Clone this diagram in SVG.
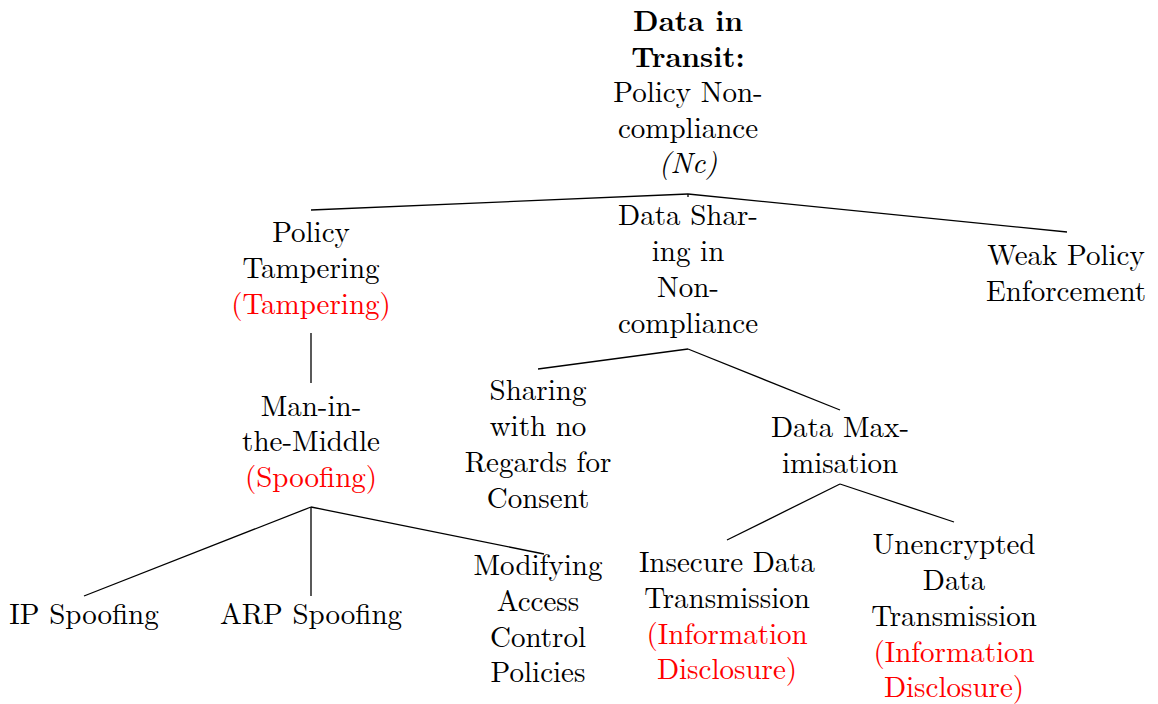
<svg xmlns="http://www.w3.org/2000/svg" width="1158" height="704" viewBox="0 0 1158 704">
<style>
text{font-size:29px;fill:#000;text-anchor:middle}
.b{font-weight:bold}
.i{font-style:italic}
.r{fill:#ff0000}
.e line{stroke:#000;stroke-width:1.3}
</style>
<rect width="1158" height="704" fill="#fff"/>
<g class="e" id="connectors">
<line x1="688" y1="194" x2="311" y2="210"/>
<line x1="688" y1="194" x2="688" y2="197"/>
<line x1="688" y1="194" x2="1067" y2="232"/>
<line x1="311" y1="333" x2="311" y2="383"/>
<line x1="311" y1="507" x2="84" y2="596"/>
<line x1="311" y1="507" x2="311" y2="596"/>
<line x1="311" y1="507" x2="544" y2="554"/>
<line x1="688" y1="349" x2="538" y2="369"/>
<line x1="688" y1="349" x2="840" y2="410"/>
<line x1="840" y1="484" x2="727" y2="540"/>
<line x1="840" y1="484" x2="954" y2="522"/>
</g>
<g font-family="Latin Modern Roman, Liberation Serif, serif" transform="translate(0,-2)">
<g id="root">
<text x="688" y="33" class="b">Data in</text>
<text x="688" y="69" class="b">Transit:</text>
<text x="688" y="104">Policy Non-</text>
<text x="688" y="140">compliance</text>
<text x="688" y="175" class="i">(Nc)</text>
</g>
<g id="policy-tampering">
<text x="311" y="244">Policy</text>
<text x="311" y="280">Tampering</text>
<text x="311" y="316" class="r">(Tampering)</text>
</g>
<g id="mitm">
<text x="311" y="418">Man-in-</text>
<text x="311" y="453">the-Middle</text>
<text x="311" y="489" class="r">(Spoofing)</text>
</g>
<g id="ip-spoofing"><text x="84" y="626">IP Spoofing</text></g>
<g id="arp-spoofing"><text x="311" y="626">ARP Spoofing</text></g>
<g id="modifying">
<text x="538" y="577">Modifying</text>
<text x="538" y="613">Access</text>
<text x="538" y="649">Control</text>
<text x="538" y="684">Policies</text>
</g>
<g id="data-sharing">
<text x="688" y="227">Data Shar-</text>
<text x="688" y="263">ing in</text>
<text x="688" y="299">Non-</text>
<text x="688" y="335">compliance</text>
</g>
<g id="sharing-consent">
<text x="538" y="402">Sharing</text>
<text x="538" y="438">with no</text>
<text x="538" y="474">Regards for</text>
<text x="538" y="510">Consent</text>
</g>
<g id="data-max">
<text x="840" y="439">Data Max-</text>
<text x="840" y="475">imisation</text>
</g>
<g id="insecure">
<text x="727" y="574">Insecure Data</text>
<text x="727" y="610">Transmission</text>
<text x="727" y="646" class="r">(Information</text>
<text x="727" y="681" class="r">Disclosure)</text>
</g>
<g id="unencrypted">
<text x="954" y="556">Unencrypted</text>
<text x="954" y="592">Data</text>
<text x="954" y="628">Transmission</text>
<text x="954" y="664" class="r">(Information</text>
<text x="954" y="699" class="r">Disclosure)</text>
</g>
<g id="weak-policy">
<text x="1066" y="267">Weak Policy</text>
<text x="1066" y="303">Enforcement</text>
</g>
</g>
</svg>
